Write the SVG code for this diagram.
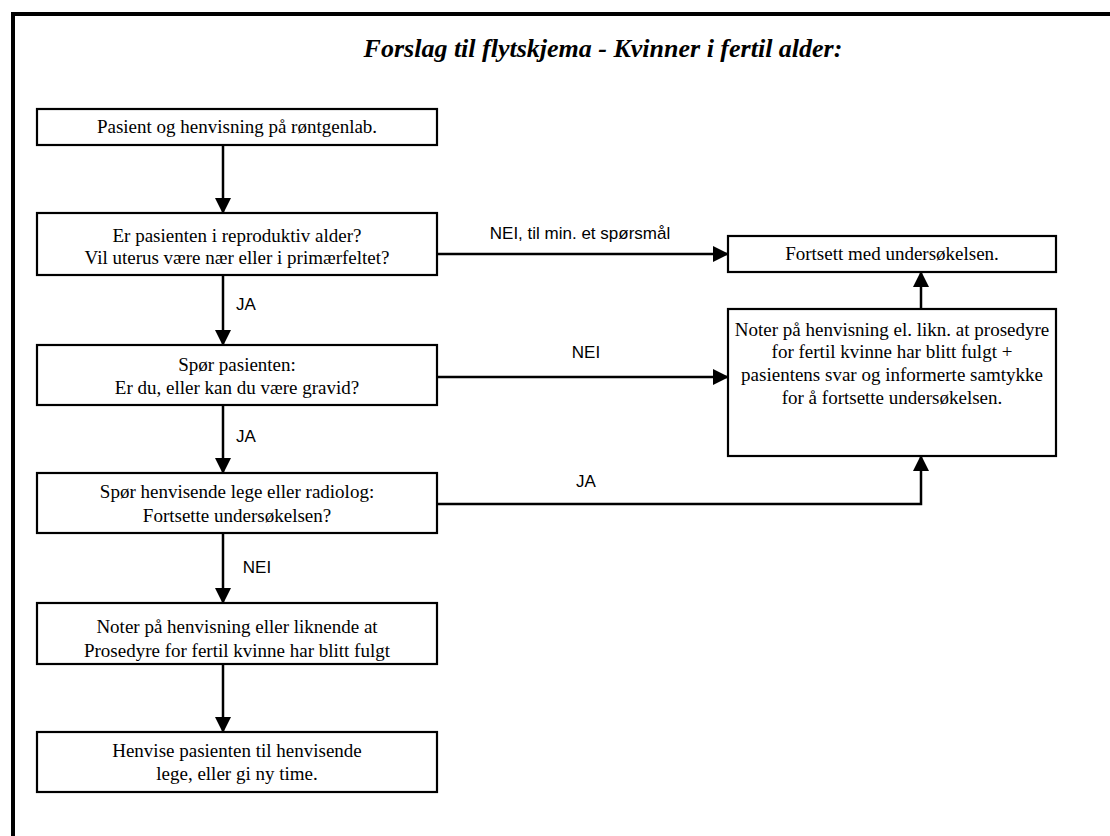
<svg xmlns="http://www.w3.org/2000/svg" width="1110" height="836" viewBox="0 0 1110 836">
<style>
.box{fill:#fff;stroke:#000;stroke-width:2.2}
.t{font-family:"Liberation Serif","Times New Roman",serif;font-size:19px;fill:#000;text-anchor:middle}
.l{font-family:"Liberation Sans",Arial,sans-serif;font-size:17px;fill:#000;text-anchor:middle}
.c{fill:none;stroke:#000;stroke-width:2.5}
.title{font-family:"Liberation Serif","Times New Roman",serif;font-size:26px;font-weight:bold;font-style:italic;fill:#000;text-anchor:middle}
</style>
<defs>
<marker id="ah" markerWidth="16" markerHeight="16" viewBox="0 0 16 16" refX="15" refY="8" orient="auto" markerUnits="userSpaceOnUse">
<path d="M0,0 L16,8 L0,16 Z" fill="#000"/>
</marker>
</defs>
<rect width="1110" height="836" fill="#fff"/>
<path d="M13,836 V14 H1110" fill="none" stroke="#000" stroke-width="4"/>
<text class="title" x="603" y="57">Forslag til flytskjema - Kvinner i fertil alder:</text>
<g id="connectors">
<path class="c" d="M223,145 V213" marker-end="url(#ah)"/>
<path class="c" d="M223,275 V345" marker-end="url(#ah)"/>
<path class="c" d="M223,405 V473" marker-end="url(#ah)"/>
<path class="c" d="M223,533 V603" marker-end="url(#ah)"/>
<path class="c" d="M223,664 V732" marker-end="url(#ah)"/>
<path class="c" d="M437,254 H728" marker-end="url(#ah)"/>
<path class="c" d="M437,377 H728" marker-end="url(#ah)"/>
<path class="c" d="M437,504 H921 V456" marker-end="url(#ah)"/>
<path class="c" d="M921,309 V272" marker-end="url(#ah)"/>
<text class="l" x="580" y="239">NEI, til min. et spørsmål</text>
<text class="l" x="586" y="358">NEI</text>
<text class="l" x="586" y="487">JA</text>
<text class="l" x="246" y="310">JA</text>
<text class="l" x="246" y="442">JA</text>
<text class="l" x="257" y="573">NEI</text>
</g>
<g id="n1"><rect class="box" x="37" y="109" width="400" height="36"/><text class="t" x="237" y="133">Pasient og henvisning på røntgenlab.</text></g>
<g id="n2"><rect class="box" x="37" y="213" width="400" height="62"/><text class="t" x="237" y="242">Er pasienten i reproduktiv alder?</text><text class="t" x="237" y="264">Vil uterus være nær eller i primærfeltet?</text></g>
<g id="n3"><rect class="box" x="37" y="345" width="400" height="60"/><text class="t" x="237" y="371">Spør pasienten:</text><text class="t" x="237" y="394">Er du, eller kan du være gravid?</text></g>
<g id="n4"><rect class="box" x="37" y="473" width="400" height="60"/><text class="t" x="237" y="498">Spør henvisende lege eller radiolog:</text><text class="t" x="237" y="522">Fortsette undersøkelsen?</text></g>
<g id="n5"><rect class="box" x="37" y="603" width="400" height="61"/><text class="t" x="237" y="633">Noter på henvisning eller liknende at</text><text class="t" x="237" y="657">Prosedyre for fertil kvinne har blitt fulgt</text></g>
<g id="n6"><rect class="box" x="37" y="732" width="400" height="60"/><text class="t" x="237" y="757">Henvise pasienten til henvisende</text><text class="t" x="237" y="780">lege, eller gi ny time.</text></g>
<g id="n7"><rect class="box" x="728" y="236" width="328" height="36"/><text class="t" x="892" y="260">Fortsett med undersøkelsen.</text></g>
<g id="n8"><rect class="box" x="728" y="309" width="328" height="147"/><text class="t" x="892" y="336">Noter på henvisning el. likn. at prosedyre</text><text class="t" x="892" y="358">for fertil kvinne har blitt fulgt +</text><text class="t" x="892" y="381">pasientens svar og informerte samtykke</text><text class="t" x="892" y="404">for å fortsette undersøkelsen.</text></g>
</svg>
